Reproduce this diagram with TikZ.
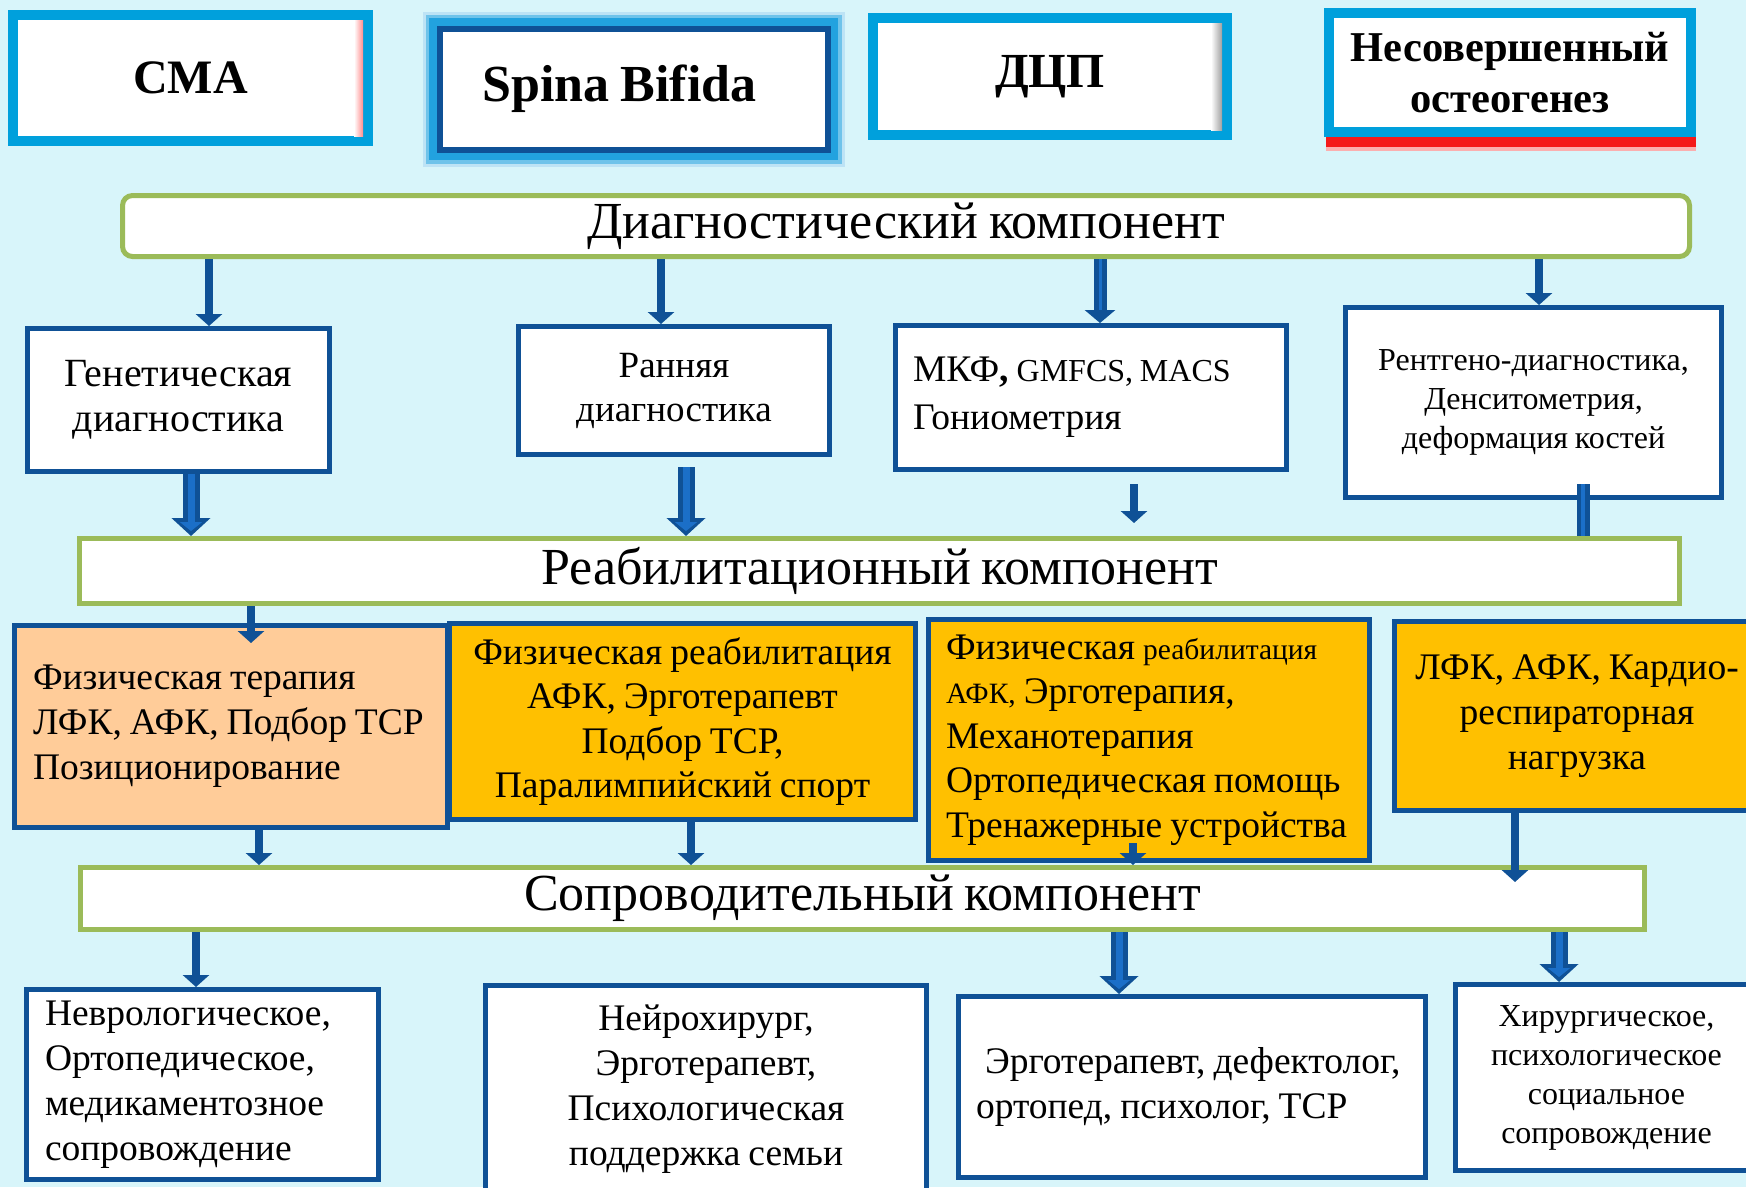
\documentclass[tikz,border=0pt]{standalone}
\usepackage{fontspec}
\setmainfont{Liberation Serif}[WordSpace=0.85]
\usetikzlibrary{arrows.meta}
\definecolor{bgc}{HTML}{D8F5FA}
\definecolor{cyb}{HTML}{00A0DC}
\definecolor{dbl}{HTML}{0F5196}
\definecolor{lbl}{HTML}{1B6FC8}
\definecolor{grn}{HTML}{9BBB59}
\definecolor{peach}{HTML}{FFCC99}
\definecolor{orng}{HTML}{FFC000}
\definecolor{glw}{HTML}{22A2DF}
\definecolor{redsh}{HTML}{F41A1A}
\newcommand\fs[2]{\fontsize{#1}{#2}\selectfont}
\begin{document}
\begin{tikzpicture}[x=1pt,y=-1pt,
  topbox/.style={draw=cyb, line width=10pt, fill=white, align=center, inner sep=0pt, font=\bfseries\fs{48}{52}},
  bar/.style={draw=grn, line width=5pt, fill=white, inner sep=0pt, font=\fs{52}{56}},
  box/.style={draw=dbl, line width=5pt, fill=white, align=center, inner sep=0pt, font=\fs{37.5}{45}},
  leftbox/.style={box, align=flush left},
  arr/.style={draw=dbl, line width=8pt, -{Triangle[length=12pt,width=26pt]}},
  fatout/.style={draw=dbl, line width=17pt, -{Triangle[length=18pt,width=38pt]}},
  fatin/.style={draw=lbl, line width=7pt, -{Triangle[length=9pt,width=22pt]}, shorten >=5pt},
  bigline/.style={draw=dbl, line width=13pt},
  bigcore/.style={draw=lbl, line width=4pt},
]
\useasboundingbox (0,0) rectangle (1746,1187);
\clip (0,0) rectangle (1746,1187);
\fill[bgc] (0,0) rectangle (1746,1187);

% top row
\node[topbox, minimum width=355pt, minimum height=126pt] (sma) at (190.5,78) {СМА};
\shade[left color=white, right color=red!45] (354,20) rectangle (363,136);
\node[topbox, draw=dbl, line width=6pt,
      preaction={draw=glw!30, line width=34pt},
      preaction={draw=glw!65, line width=28pt},
      preaction={draw=glw, line width=21pt},
      minimum width=388pt, minimum height=121pt, font=\bfseries\fs{52}{56}] (sb) at (633.5,89) {Spina Bifida\hspace*{28pt}};
\node[topbox, minimum width=354pt, minimum height=117pt, font=\bfseries\fs{49}{52}] (dcp) at (1050,76.5) {ДЦП};
\shade[left color=white, right color=gray!75] (1211,23) rectangle (1222,130);
\fill[redsh!35] (1326,40) rectangle (1696,151);
\fill[redsh] (1326,40) rectangle (1696,147);
\node[topbox, minimum width=362pt, minimum height=119pt, font=\bfseries\fs{42.5}{51}] (oi) at (1510,72.5) {Несовершенный\\остеогенез};

% bars
\node[bar, rounded corners=10pt, minimum width=1567pt, minimum height=61pt] (diag) at (906,226) {Диагностический компонент};
\node[bar, minimum width=1600pt, minimum height=65pt] (reab) at (879.5,571) {Реабилитационный компонент};
\node[bar, minimum width=1564pt, minimum height=62pt] (sopr) at (862.5,898.5) {Сопроводительный компонент};

% diagnostic row
\node[box, minimum width=302pt, minimum height=143pt, font=\fs{40}{45}] (gen) at (178.5,400) {Генетическая\\диагностика};
\node[box, minimum width=311pt, minimum height=128pt, font=\fs{37}{44}] (ran) at (674,390.5) {Ранняя\\диагностика};
\node[leftbox, minimum width=391pt, minimum height=144pt, text width=356pt, inner xsep=17.5pt, font=\fs{37.5}{48}] (mkf) at (1091,397.5) {МКФ\textbf{,}~{\fs{32}{48}GMFCS,~MACS}\\Гониометрия};
\node[box, minimum width=376pt, minimum height=190pt, font=\fs{32}{39}] (rtg) at (1533.5,402.5) {Рентгено-диагностика,\\Денситометрия,\\деформация костей};

% rehabilitation row
\node[leftbox, fill=peach, minimum width=433pt, minimum height=202pt, text width=396pt, inner xsep=18.5pt] (fter) at (231,726) {Физическая~терапия\\ЛФК,~АФК,~Подбор~ТСР\\Позиционирование};
\node[box, fill=orng, minimum width=466pt, minimum height=196pt, font=\fs{37.5}{44.5}] (freab) at (682.5,721.5) {Физическая реабилитация\\АФК, Эрготерапевт\\Подбор ТСР,\\Паралимпийский спорт};
\node[leftbox, fill=orng, minimum width=441pt, minimum height=241pt, text width=406pt, inner xsep=17.5pt, font=\fs{37.5}{44.5}] (mech) at (1149,740) {Физическая~{\fs{29.5}{44.5}реабилитация}\\{\fs{29.5}{44.5}АФК,}~Эрготерапия,\\Механотерапия\\Ортопедическая~помощь\\Тренажерные~устройства};
\node[box, fill=orng, minimum width=366pt, minimum height=189pt] (lfk) at (1577,716) {ЛФК, АФК, Кардио-\\респираторная\\нагрузка};

% support row
\node[leftbox, minimum width=352pt, minimum height=190pt, text width=315pt, inner xsep=18.5pt] (nevr) at (202.5,1084.5) {Неврологическое,\\Ортопедическое,\\медикаментозное\\сопровождение};
\node[box, minimum width=441pt, minimum height=207pt] (neuro) at (706,1089) {Нейрохирург,\\Эрготерапевт,\\Психологическая\\поддержка семьи};
\node[leftbox, minimum width=467pt, minimum height=181pt, text width=432pt, inner xsep=17.5pt] (ergo) at (1192,1087) {\hspace*{9pt}Эрготерапевт,~дефектолог,\\ортопед,~психолог,~ТСР};
\node[box, minimum width=302pt, minimum height=186pt, font=\fs{32}{39}] (hir) at (1606.5,1077.5) {Хирургическое,\\психологическое\\социальное\\сопровождение};

% free connector ends
\coordinate (b2s) at (686,467);
\coordinate (a5s) at (1134,484);
\coordinate (a5e) at (1134,523);
\coordinate (l6s) at (1583,484);
\coordinate (a7e) at (251,643);
\coordinate (a10s) at (1133,843);
\coordinate (a11e) at (1515,882);

% connectors
\draw[arr] (209,0 |- diag.south) -- (209,0 |- gen.north);
\draw[arr] (661,0 |- diag.south) -- (661,0 |- ran.north);
\draw[arr, line width=13pt, -{Triangle[length=13pt,width=30pt]}] (1100,0 |- diag.south) -- (1100,0 |- mkf.north);
\draw[draw=lbl, line width=3pt, shorten >=13pt] (1100,0 |- diag.south) -- (1100,0 |- mkf.north);
\draw[arr] (1539,0 |- diag.south) -- (1539,0 |- rtg.north);

\draw[fatout] (191,0 |- gen.south) -- (191,0 |- reab.north);
\draw[fatin] (191,0 |- gen.south) -- (191,0 |- reab.north);
\draw[fatout] (b2s) -- (686,0 |- reab.north);
\draw[fatin] (b2s) -- (686,0 |- reab.north);
\draw[arr] (a5s) -- (a5e);
\draw[bigline] (l6s) -- (1583,0 |- reab.north);
\draw[bigcore] (l6s) -- (1583,0 |- reab.north);

\draw[arr] (251,0 |- reab.south) -- (a7e);
\draw[arr] (259,0 |- fter.south) -- (259,0 |- sopr.north);
\draw[arr] (691,0 |- freab.south) -- (691,0 |- sopr.north);
\draw[arr] (a10s) -- (1133,0 |- sopr.north);
\draw[arr] (1515,0 |- lfk.south) -- (a11e);

\draw[arr] (196,0 |- sopr.south) -- (196,0 |- nevr.north);
\draw[fatout] (1119,0 |- sopr.south) -- (1119,0 |- ergo.north);
\draw[fatin] (1119,0 |- sopr.south) -- (1119,0 |- ergo.north);
\draw[fatout] (1559,0 |- sopr.south) -- (1559,0 |- hir.north);
\draw[fatin] (1559,0 |- sopr.south) -- (1559,0 |- hir.north);
\end{tikzpicture}
\end{document}
